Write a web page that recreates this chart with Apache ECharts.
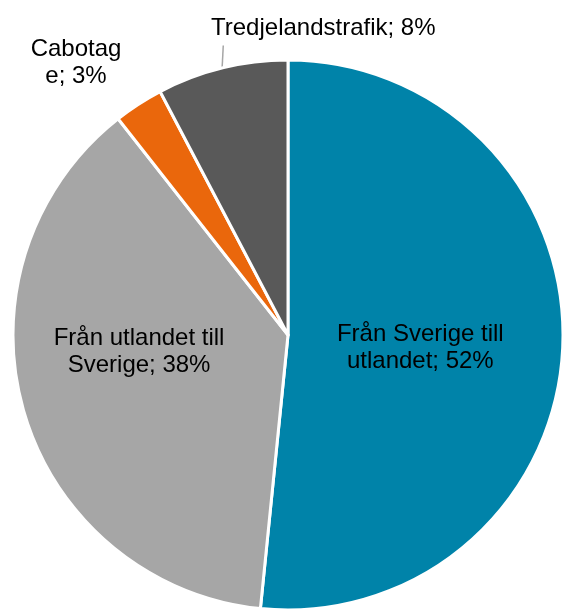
<!DOCTYPE html>
<html>
<head>
<meta charset="utf-8">
<script src="https://cdn.jsdelivr.net/npm/echarts@6/dist/echarts.min.js"></script>
<style>
  html, body { margin: 0; padding: 0; background: #fff; }
  #chart { width: 562px; height: 609px; }
</style>
</head>
<body>
<div id="chart"></div>
<script>
// slices, clockwise from 12 o'clock
const categories = ['Från Sverige till utlandet', 'Från utlandet till Sverige', 'Cabotage', 'Tredjelandstrafik'];
const labelText = ['Från Sverige till\nutlandet', 'Från utlandet till\nSverige', 'Cabotag\ne', 'Tredjelandstrafik'];
const values = [51.6, 37.8, 2.9, 7.7];
const colors = ['#0083A9', '#A6A6A6', '#EA670C', '#595959'];

const myChart = echarts.init(document.getElementById('chart'));

const data = categories.map((name, i) => {
  const item = {
    name: name,
    value: values[i],
    itemStyle: { color: colors[i] },
    label: { position: i < 2 ? 'inside' : 'outside' },
    labelLine: { show: i === 3 }
  };
  // wide left padding so the leader line meets the label box from below, near its left end
  if (i === 3) item.label.padding = [0, 0, 8, 200];
  return item;
});

const option = {
  backgroundColor: '#fff',
  animation: false,
  series: [
    {
      type: 'pie',
      center: [288, 335],
      radius: [0, 275],
      startAngle: 90,
      clockwise: true,
      avoidLabelOverlap: false,
      itemStyle: { borderColor: '#fff', borderWidth: 3 },
      label: {
        fontFamily: 'Liberation Sans, Arial, sans-serif',
        fontSize: 24,
        lineHeight: 27,
        color: '#000',
        align: 'center',
        formatter: (p) => labelText[p.dataIndex] + '; ' + Math.round(p.percent) + '%'
      },
      labelLine: {
        length: 20,
        length2: 0,
        lineStyle: { color: '#A6A6A6', width: 1.5 }
      },
      labelLayout: (p) => {
        if (p.dataIndex === 0) return { dx: -8, dy: 6 };
        if (p.dataIndex === 1) return { dx: -14, dy: -22 };
        if (p.dataIndex === 2) return { x: 76, y: 63, align: 'center', verticalAlign: 'middle' };
        return { x: 11, y: 28, align: 'left', verticalAlign: 'middle' };
      },
      data: data
    }
  ]
};

myChart.setOption(option);
</script>
</body>
</html>
